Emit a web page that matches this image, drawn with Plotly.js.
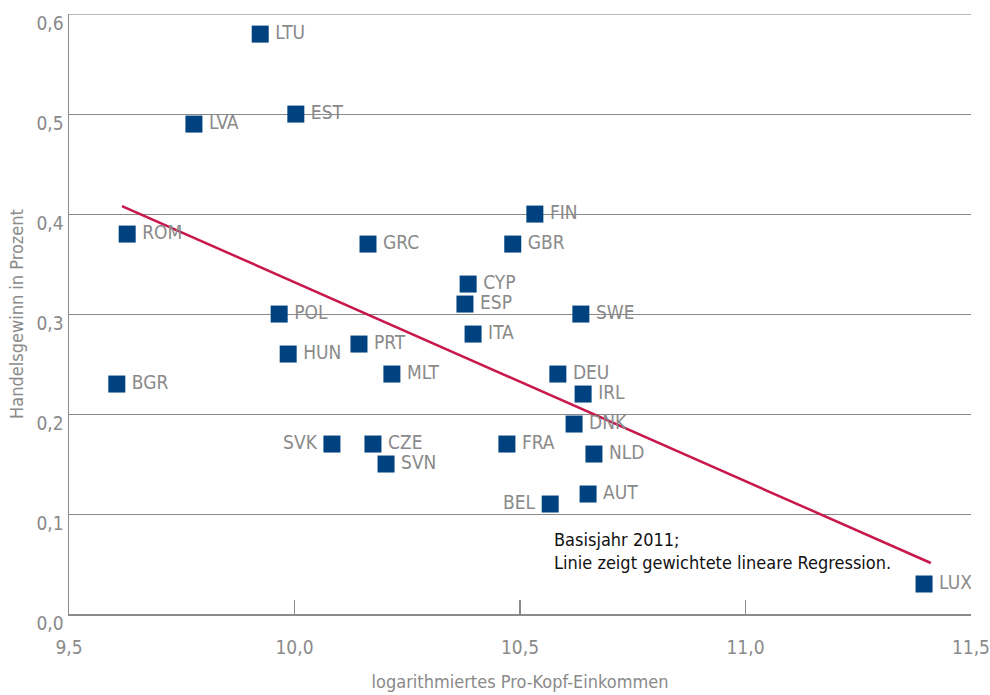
<!DOCTYPE html>
<html>
<head>
<meta charset="utf-8">
<script src="https://cdn.plot.ly/plotly-3.0.1.min.js"></script>
<style>html,body{margin:0;padding:0;background:#fff;}#chart{width:990px;height:695px;}</style>
</head>
<body>
<div id="chart"></div>
<script>
// Countries labelled to the right of the marker
const countriesR = ["LTU","LVA","EST","ROM","GRC","FIN","GBR","CYP","ESP","ITA","SWE","POL","HUN","PRT","MLT","BGR","DEU","IRL","DNK","CZE","FRA","SVN","NLD","AUT","LUX"];
const incomeR    = [9.924,9.777,10.003,9.629,10.163,10.533,10.484,10.385,10.378,10.396,10.635,9.966,9.986,10.143,10.216,9.606,10.584,10.640,10.620,10.174,10.471,10.203,10.664,10.651,11.396];
const gainR      = [0.58,0.49,0.50,0.38,0.37,0.40,0.37,0.33,0.31,0.28,0.30,0.30,0.26,0.27,0.24,0.23,0.24,0.22,0.19,0.17,0.17,0.15,0.16,0.12,0.03];
// Countries labelled to the left of the marker
const countriesL = ["SVK","BEL"];
const incomeL    = [10.083,10.567];
const gainL      = [0.17,0.11];
// Weighted linear regression line (end points)
const regX = [9.6175, 11.411];
const regY = [0.408, 0.051];
// Axis ticks
const xTicks = [9.5,10.0,10.5,11.0,11.5];
const yTicks = [0,0.1,0.2,0.3,0.4,0.5,0.6];

const FONT = "Liberation Sans Narrow, DejaVu Sans Condensed, Arial Narrow, sans-serif";
const GREY = "#8a8a8a";
const BLUE = "#00427f";

const markerStyle = {symbol:"square", size:17, color:BLUE, line:{width:0}};
const textFont = {family:FONT, size:19, color:GREY};

const traces = [
  {x:regX, y:regY, mode:"lines", line:{color:"#c8174b", width:2.5}, hoverinfo:"skip"},
  {x:incomeR, y:gainR, text:countriesR, texttemplate:"\u2009%{text}", mode:"markers+text", textposition:"middle right",
   marker:markerStyle, textfont:textFont},
  {x:incomeL, y:gainL, text:countriesL, texttemplate:"%{text}\u2009", mode:"markers+text", textposition:"middle left",
   marker:markerStyle, textfont:textFont}
];

const layout = {
  width:990, height:695,
  margin:{l:69, r:19, t:14, b:81},
  paper_bgcolor:"#fff", plot_bgcolor:"#fff",
  showlegend:false,
  separators:", ",
  font:{family:FONT, color:GREY, size:19},
  xaxis:{
    range:[9.5,11.5001], tickvals:xTicks, tickformat:".1f",
    showgrid:false, zeroline:false,
    showline:true, linecolor:GREY, linewidth:1.5,
    ticks:"inside", ticklen:14, tickcolor:GREY, tickwidth:1.5,
    ticklabelstandoff:16, ticklabeloverflow:"allow",
    tickfont:{family:FONT, size:19, color:GREY},
    title:{text:"logarithmiertes Pro-Kopf-Einkommen", font:{family:FONT, size:18, color:GREY}, standoff:18}
  },
  yaxis:{
    range:[0,0.6001], tickvals:yTicks, tickformat:".1f",
    showgrid:true, gridcolor:GREY, gridwidth:1,
    zeroline:false,
    showline:true, linecolor:GREY, linewidth:1.5,
    ticks:"", ticklabelshift:9, ticklabelstandoff:0, ticklabeloverflow:"allow",
    tickfont:{family:FONT, size:19, color:GREY},
    title:{text:"Handelsgewinn in Prozent", font:{family:FONT, size:18, color:GREY}, standoff:8}
  },
  shapes:[{
    type:"line", xref:"paper", yref:"y", x0:0, x1:1, y0:yTicks[yTicks.length-1], y1:yTicks[yTicks.length-1],
    line:{color:GREY, width:1}, layer:"below"
  }],
  annotations:[{
    xref:"x", yref:"y", x:10.571, y:0.087, xanchor:"left", yanchor:"top", align:"left",
    showarrow:false,
    text:"Basisjahr 2011;<br>Linie zeigt gewichtete lineare Regression.",
    font:{family:FONT, size:18, color:"#111"}
  }]
};

Plotly.newPlot("chart", traces, layout, {displayModeBar:false, staticPlot:true});
</script>
</body>
</html>
